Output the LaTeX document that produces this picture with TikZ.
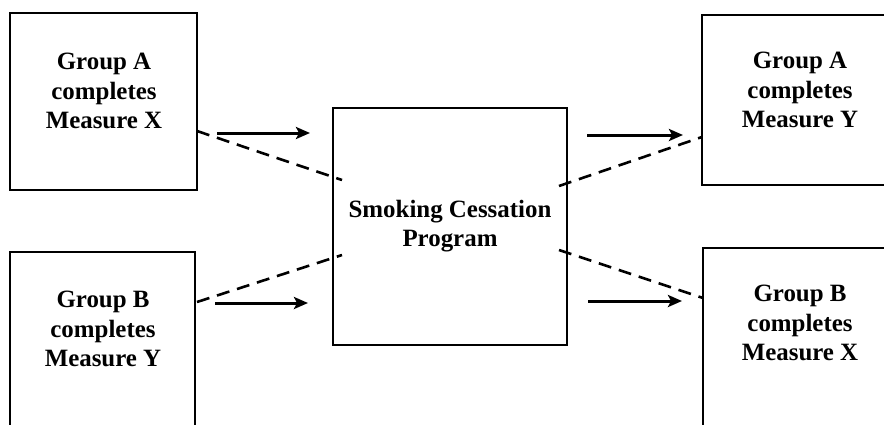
\documentclass[tikz,border=0pt]{standalone}
\usepackage{fontspec}
\setmainfont{Liberation Serif}
\usetikzlibrary{arrows.meta}
\begin{document}
\begin{tikzpicture}[x=1bp,y=-1bp,
  box/.style={draw=black, line width=2bp, rectangle, inner sep=0pt},
  lbl/.style={align=center, font=\fontsize{25}{29.5}\selectfont\bfseries, inner sep=0pt},
  flow/.style={line width=3bp, -{Stealth[length=14bp,width=12bp,inset=3bp]}},
  cross/.style={line width=2.6bp, dash pattern=on 13bp off 8bp}]
\useasboundingbox (0,0) rectangle (884,424);
\clip (0,0) rectangle (884,424);
% boxes
\node[box, minimum width=187bp, minimum height=177bp] (a1) at (103.5,101.5) {};
\node[box, minimum width=185bp, minimum height=210bp] (b1) at (102.5,357) {};
\node[box, minimum width=234bp, minimum height=237bp] (c) at (450,226.5) {};
\node[box, minimum width=220bp, minimum height=170bp] (a2) at (812,100) {};
\node[box, minimum width=220bp, minimum height=220bp] (b2) at (813,358) {};
% labels
\node[lbl] (ta1) at (104,91) {Group A\\completes\\Measure X};
\node[lbl] (tb1) at (103,329) {Group B\\completes\\Measure Y};
\node[lbl] (tc) at (450,226) {Smoking Cessation\\Program};
\node[lbl] (ta2) at (800,90) {Group A\\completes\\Measure Y};
\node[lbl] (tb2) at (800,323) {Group B\\completes\\Measure X};
% arrow end points
\coordinate (f1s) at (217,133); \coordinate (f1e) at (310,133);
\coordinate (f2s) at (215,303); \coordinate (f2e) at (308,303);
\coordinate (f3s) at (587,135); \coordinate (f3e) at (683,135);
\coordinate (f4s) at (588,301); \coordinate (f4e) at (682,301);
\draw[flow] (f1s) -- (f1e);
\draw[flow] (f2s) -- (f2e);
\draw[flow] (f3s) -- (f3e);
\draw[flow] (f4s) -- (f4e);
% dashed cross lines
\coordinate (d1s) at (197,131); \coordinate (d1e) at (342,180);
\coordinate (d2s) at (197,302); \coordinate (d2e) at (342,255);
\coordinate (d3s) at (559,186); \coordinate (d3e) at (702,137);
\coordinate (d4s) at (559,250); \coordinate (d4e) at (703,298);
\draw[cross] (d1s) -- (d1e);
\draw[cross] (d2s) -- (d2e);
\draw[cross] (d3s) -- (d3e);
\draw[cross] (d4s) -- (d4e);
\end{tikzpicture}
\end{document}
